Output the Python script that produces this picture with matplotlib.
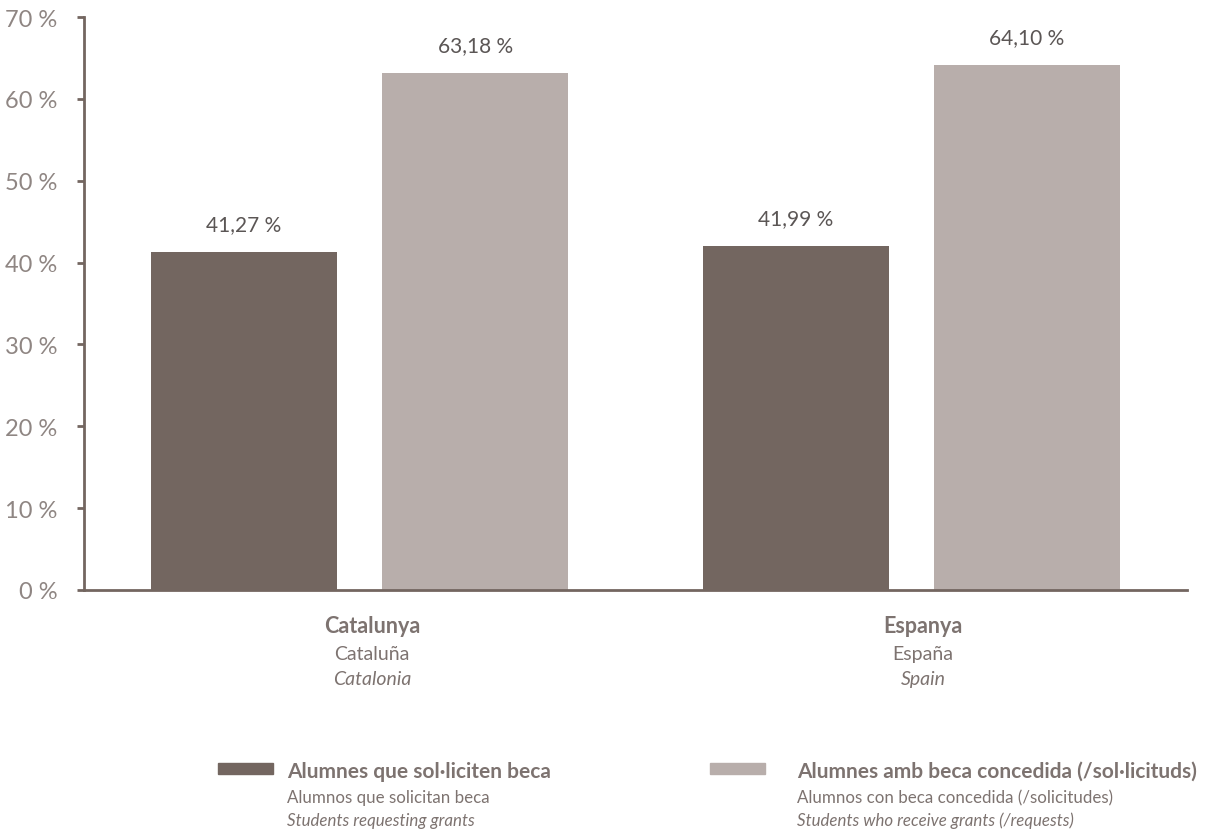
import matplotlib.pyplot as plt
from matplotlib.patches import Rectangle
import numpy as np

plt.rcParams['font.family'] = ['Lato', 'DejaVu Sans']

# data
groups_ca = ["Catalunya", "Espanya"]
groups_es = ["Cataluña", "España"]
groups_en = ["Catalonia", "Spain"]
requesting = [41.27, 41.99]
granted = [63.18, 64.10]
yticks = [0, 10, 20, 30, 40, 50, 60, 70]

series_ca = ["Alumnes que sol·liciten beca", "Alumnes amb beca concedida (/sol·licituds)"]
series_es = ["Alumnos que solicitan beca", "Alumnos con beca concedida (/solicitudes)"]
series_en = ["Students requesting grants", "Students who receive grants (/requests)"]

dark = "#736660"
light = "#b8aeab"
axis_col = "#736660"
tick_col = "#8f8683"
text_col = "#5b5655"
label_col = "#7d7370"

fig = plt.figure(figsize=(12.08, 8.37), dpi=100)
ax = fig.add_axes([84 / 1208, 1 - 591 / 837, (1187 - 84) / 1208, (591 - 18) / 837])

x = np.arange(len(groups_ca))
w = 0.337
off = 0.2097
b1 = ax.bar(x - off, requesting, w, color=dark)
b2 = ax.bar(x + off, granted, w, color=light)

for bars, vals in ((b1, requesting), (b2, granted)):
    for r, v in zip(bars, vals):
        ax.text(r.get_x() + r.get_width() / 2, v + 2.2, f"{v:.2f} %".replace(".", ","),
                ha="center", va="bottom", fontsize=15, color=text_col)

ax.set_xlim(-0.5, 1.5)
ax.set_ylim(0, 70)
ax.set_yticks(yticks)
ax.set_yticklabels([f"{t} %" for t in yticks], fontsize=17, color=tick_col)
ax.set_xticks([])
ax.tick_params(axis="y", length=5, width=2, color=axis_col, pad=14)
for s in ("top", "right"):
    ax.spines[s].set_visible(False)
for s in ("left", "bottom"):
    ax.spines[s].set_color(axis_col)
    ax.spines[s].set_linewidth(2)

# category labels (sit a little right of the bar pair centre)
for xi, a, b, c in zip(x, groups_ca, groups_es, groups_en):
    xf = (ax.transData.transform((xi, 0))[0] + 12) / fig.bbox.width
    fig.text(xf, 1 - 627 / 837, a, ha="center", va="center", fontsize=15.5,
             fontweight="bold", color=label_col)
    fig.text(xf, 1 - 655 / 837, b, ha="center", va="center", fontsize=14, color=label_col)
    fig.text(xf, 1 - 680 / 837, c, ha="center", va="center", fontsize=14,
             style="italic", color=label_col)

# legend
for px, tx, col, a, b, c in zip([218, 710], [287, 797], [dark, light], series_ca, series_es, series_en):
    fig.patches.append(Rectangle((px / 1208, 1 - 775 / 837), 55 / 1208, 11 / 837,
                                 transform=fig.transFigure, color=col))
    fig.text(tx / 1208, 1 - 772 / 837, a, ha="left", va="center", fontsize=15,
             fontweight="bold", color=label_col)
    fig.text(tx / 1208, 1 - 798 / 837, b, ha="left", va="center", fontsize=12.2, color=label_col)
    fig.text(tx / 1208, 1 - 821 / 837, c, ha="left", va="center", fontsize=12.2,
             style="italic", color=label_col)

fig.savefig("out.png", dpi=100)
